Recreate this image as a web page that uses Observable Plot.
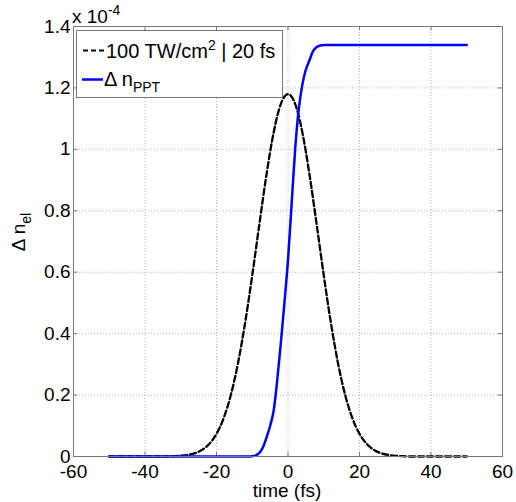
<!DOCTYPE html>
<html><head><meta charset="utf-8">
<script src="https://cdn.jsdelivr.net/npm/d3@7"></script>
<script src="https://cdn.jsdelivr.net/npm/@observablehq/plot@0.6"></script>
<style>
body{margin:0;background:#fff;font-family:"Liberation Sans",Arial,sans-serif;}
#wrap{position:relative;width:516px;height:502px;overflow:hidden;}
#wrap svg{display:block;}
.ov{position:absolute;white-space:nowrap;color:#000;font-size:19px;line-height:22px;}
#legend{position:absolute;left:76px;top:30px;width:207px;height:68px;border:1px solid #777;background:#fff;box-sizing:border-box;}
.sp{font-size:14px;vertical-align:8px;line-height:0;}
.sb{font-size:14px;vertical-align:-6px;line-height:0;}
</style></head><body><div id="wrap"></div>
<script>
// Dashed pulse (intensity envelope, 100 TW/cm^2 | 20 fs), units of 1e-4
const pulseTime  = [-50,-40,-34,-32,-30,-28,-26,-24,-22,-20,-18,-16,-14,-12,-10,-8,-6,-4,-2,0,2,4,6,8,10,12,14,16,18,20,22,24,26,28,30,32,34,40,50];
const pulseValue = [0,0,0,0.001,0.0023,0.0052,0.0109,0.0218,0.0412,0.0738,0.125,0.200,0.303,0.435,0.590,0.757,0.919,1.056,1.148,1.18,1.148,1.056,0.919,0.757,0.590,0.435,0.303,0.200,0.125,0.0738,0.0412,0.0218,0.0109,0.0052,0.0023,0.001,0,0,0];
// Delta n_PPT, units of 1e-4
const pptTime  = [-50,-11,-10,-9,-8,-7,-6,-5,-4,-3,-2,-1,0,1,2,3,4,5,6,7,8,9,10,50];
const pptValue = [0,0,0.001,0.004,0.012,0.03,0.062,0.10,0.15,0.25,0.37,0.50,0.64,0.82,1.00,1.13,1.21,1.26,1.29,1.32,1.333,1.338,1.34,1.34];
const xTicks = [-60,-40,-20,0,20,40,60];
const yTicks = [0,0.2,0.4,0.6,0.8,1,1.2,1.4];
const yTickLabels = ["0","0.2","0.4","0.6","0.8","1","1.2","1.4"];

const pulse = pulseTime.map((t,i)=>({t, v:pulseValue[i]}));
const ppt = pptTime.map((t,i)=>({t, v:pptValue[i]}));
const gridStyle = {stroke:"#b4b4b4", strokeOpacity:1, strokeDasharray:"1,2"};

const chart = Plot.plot({
  width:516, height:502,
  marginLeft:73, marginRight:14, marginTop:26, marginBottom:46,
  style:{fontFamily:'"Liberation Sans", Arial, sans-serif', fontSize:"19px", color:"#000", background:"#fff"},
  x:{domain:[-60,60]},
  y:{domain:[0,1.4]},
  marks:[
    Plot.gridX(xTicks, gridStyle),
    Plot.gridY(yTicks, gridStyle),
    Plot.axisX(xTicks, {tickSize:0, tickPadding:8, label:null, fontSize:19, tickFormat:d=>String(d)}),
    Plot.axisY(yTicks, {tickSize:0, tickPadding:3, label:null, fontSize:19, tickFormat:(d,i)=>yTickLabels[i]}),
    Plot.ruleX(xTicks, {x:d=>d, y1:0, y2:0.014, stroke:"#777"}),
    Plot.ruleX(xTicks, {x:d=>d, y1:1.386, y2:1.4, stroke:"#777"}),
    Plot.ruleY(yTicks, {y:d=>d, x1:-60, x2:-58.8, stroke:"#777"}),
    Plot.ruleY(yTicks, {y:d=>d, x1:58.8, x2:60, stroke:"#777"}),
    Plot.line(pulse, {x:"t", y:"v", stroke:"#000", strokeWidth:2.3, strokeDasharray:"6,3", curve:"monotone-x"}),
    Plot.line(ppt, {x:"t", y:"v", stroke:"#0000ff", strokeWidth:2.5, curve:"monotone-x"}),
    Plot.frame({stroke:"#777"})
  ]
});
const wrap = document.getElementById("wrap");
wrap.appendChild(chart);

function add(html, css){const d=document.createElement("div");d.className="ov";d.innerHTML=html;Object.assign(d.style,css);wrap.appendChild(d);return d;}
// exponent
add('x 10<span class="sp">-4</span>', {left:"72px", top:"6px"});
// axis labels
add('time (fs)', {left:"287px", top:"481px", lineHeight:"19px", transform:"translateX(-50%)"});
add('&Delta; n<span class="sb">el</span>', {left:"19px", top:"232px", transform:"translate(-50%,-50%) rotate(-90deg)"});
// legend
const lg=document.createElement("div");lg.id="legend";wrap.appendChild(lg);
lg.innerHTML = `
<svg width="207" height="68" style="position:absolute;left:0;top:0">
 <line x1="6" y1="19.5" x2="28" y2="19.5" stroke="#000" stroke-width="2.2" stroke-dasharray="5,3"/>
 <line x1="5" y1="48.5" x2="26" y2="48.5" stroke="#0000ff" stroke-width="2.5"/>
</svg>
<div class="ov" style="left:29px;top:9px;font-size:20px;">100 TW/cm<span class="sp">2</span> | 20 fs</div>
<div class="ov" style="left:27px;top:37px;font-size:20px;">&Delta; n<span class="sb">PPT</span></div>`;
</script></body></html>
